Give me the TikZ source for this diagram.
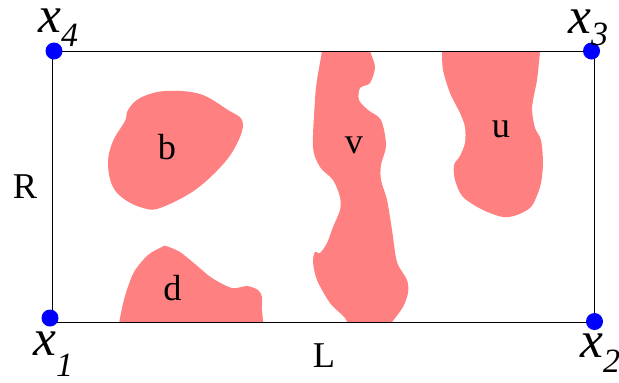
\documentclass[tikz,border=0pt]{standalone}
\usepackage{fontspec}
\setmainfont{Liberation Serif}
\begin{document}
\begin{tikzpicture}[x=0.03cm,y=-0.03cm,
  blob/.style={fill=blobred,draw=none},
  dot/.style={circle,fill=blue,inner sep=0pt,minimum size=0.51cm},
  lab/.style={anchor=base,inner sep=0pt,font=\fontsize{31}{32}\selectfont},
  corner/.style={anchor=base west,inner sep=0pt,text height=0.5em,font=\fontsize{44}{45}\selectfont\itshape},
  frame/.style={draw=black,line width=0.7pt}]
\definecolor{blobred}{HTML}{FF8080}
\useasboundingbox (0,0) rectangle (619,382);
\coordinate (c1) at (52,322);
\coordinate (c2) at (594,322);
\coordinate (c3) at (594,51);
\coordinate (c4) at (52,51);
\begin{scope}
\clip (c1) rectangle (c3);
% b
\fill[blobred] plot[smooth cycle,tension=0.6] coordinates {(128,110) (140,98) (165,91) (200,94) (228,110) (242,120) (240,137) (225,162) (195,190) (160,208) (143,208) (124,199) (112,185) (108,162) (113,141) (125,121)};
% d
\fill[blobred] plot[smooth,tension=0.5] coordinates {(118,330) (120,318) (125,296) (134,272) (148,255) (162,247) (166,246) (180,252) (195,264) (212,278) (232,288) (247,286) (258,290) (262,297) (262,310) (264,330)} -- cycle;
% v
\fill[blobred] plot[smooth,tension=0.5] coordinates {(323,40) (322,51) (317,80) (315,100) (313,147) (320,167) (333,180) (340,197) (340,210) (333,227) (327,243) (320,253) (315,252) (313,262) (317,280) (330,303) (345,318) (350,330)} -- (392,330) -- plot[smooth,tension=0.5] coordinates {(392,322) (403,307) (408,293) (407,280) (397,262) (392,230) (387,200) (381,180) (381,165) (386,145) (381,120) (368,110) (359,100) (360,88) (370,83) (375,67) (370,51) (368,40)} -- cycle;
% u
\fill[blobred] plot[smooth,tension=0.5] coordinates {(442,40) (442,51) (443,70) (450,93) (460,113) (465,127) (465,143) (460,156) (454,165) (455,180) (463,197) (483,210) (503,217) (517,215) (530,208) (536,198) (541,183) (543,163) (541,140) (535,128) (532,110) (534,95) (537,80) (540,51) (540,40)} -- cycle;
\end{scope}
\draw[frame] (c1) -- (c2) -- (c3) -- (c4) -- cycle;
\node[dot] (d1) at (50,318) {};
\node[dot] (d2) at (594.5,321.5) {};
\node[dot] (d3) at (591.5,51) {};
\node[dot] (d4) at (54,51) {};
\node[corner] (l4) at (38,32) {x\raisebox{-12pt}{\fontsize{29}{30}\selectfont 4}};
\node[corner] (l3) at (568,33) {x\raisebox{-11pt}{\fontsize{29}{30}\selectfont 3}};
\node[corner] (l1) at (33,355) {x\raisebox{-18pt}{\fontsize{29}{30}\selectfont 1}};
\node[corner] (l2) at (580,357) {x\raisebox{-13pt}{\fontsize{29}{30}\selectfont 2}};
\node[lab] (b) at (167,159) {b};
\node[lab] (v) at (354,153) {v};
\node[lab] (u) at (501,137) {u};
\node[lab] (d) at (172.5,300) {d};
\node[lab] (R) at (25,198) {R};
\node[lab] (L) at (324,367) {L};
\end{tikzpicture}
\end{document}
